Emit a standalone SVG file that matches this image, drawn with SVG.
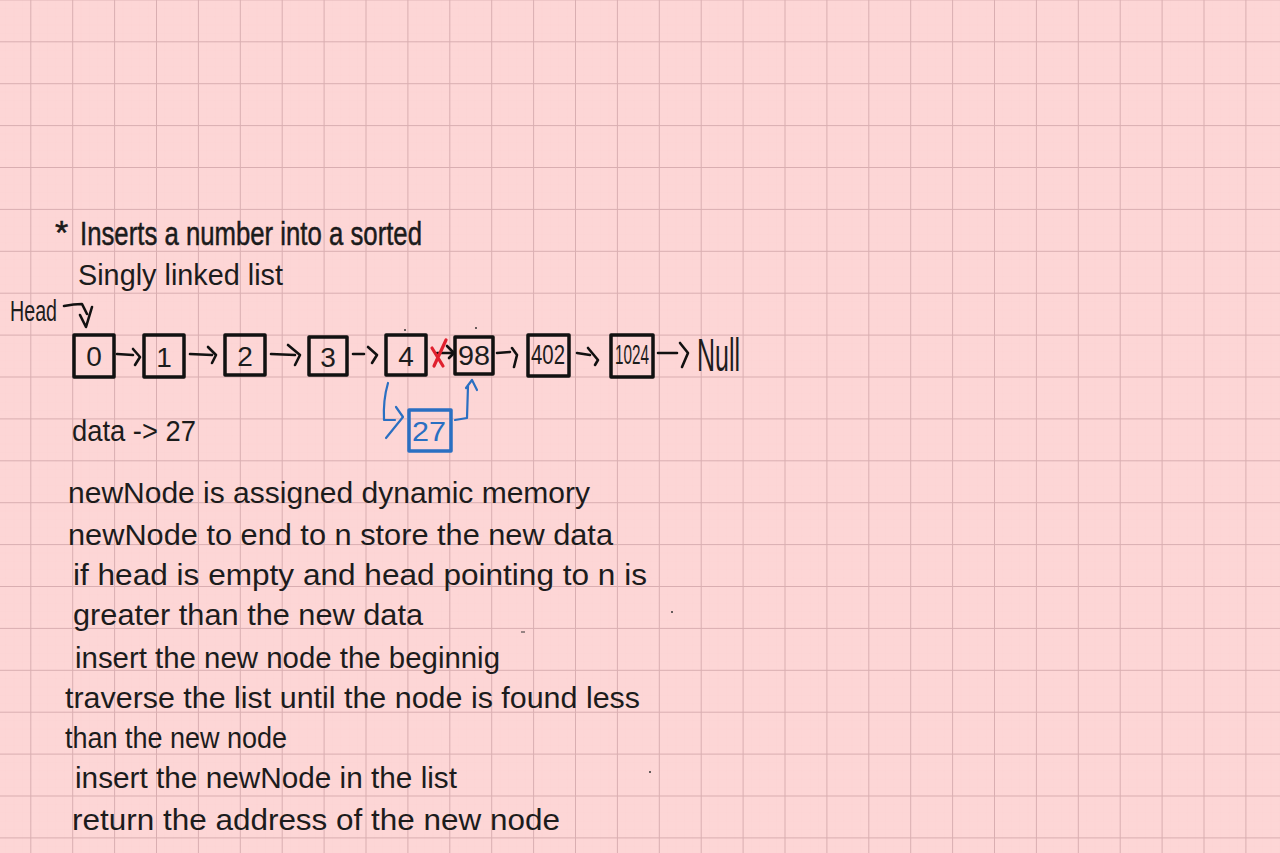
<svg xmlns="http://www.w3.org/2000/svg" width="1280" height="853" viewBox="0 0 1280 853">
  <defs>
    <pattern id="minor" patternUnits="userSpaceOnUse" x="30.3" y="41.3" width="8.38" height="8.38">
      <path d="M0 0H8.38M0 0V8.38" fill="none" stroke="#f8d0d0" stroke-width="0.4"/>
    </pattern>
    <pattern id="major" patternUnits="userSpaceOnUse" x="30.3" y="41.3" width="41.9" height="41.9">
      <path d="M0 0.5H41.9M0.5 0V41.9" fill="none" stroke="#d9aeb1" stroke-width="1"/>
    </pattern>
    <style>
      .hand { font-family: "Liberation Sans Narrow", "Liberation Sans", "DejaVu Sans", sans-serif; fill: #1c1c1c; }
      .title { font-size: 34px; stroke: #161616; stroke-width: 0.5px; }
      .body { font-size: 29px; }
      .box { fill: none; stroke: #111; stroke-width: 3.5; stroke-linejoin: round; }
      .bbox { fill: none; stroke: #2a6fc2; stroke-width: 3.5; stroke-linejoin: round; }
      .num { font-size: 28px; text-anchor: middle; }
      .arr { fill: none; stroke: #111; stroke-width: 2.6; stroke-linecap: round; stroke-linejoin: round; }
      .barr { fill: none; stroke: #2a6fc2; stroke-width: 2.2; stroke-linecap: round; stroke-linejoin: round; }
      .red { fill: none; stroke: #e0202e; stroke-width: 3.2; stroke-linecap: round; }
    </style>
  </defs>

  <rect width="1280" height="853" fill="#fdd6d6"/>
  <rect width="1280" height="853" fill="url(#minor)"/>
  <rect width="1280" height="853" fill="url(#major)"/>

  <g id="title">
    <text class="hand title" x="55" y="244" font-size="26">*</text>
    <text class="hand title" x="80" y="245" textLength="342" lengthAdjust="spacingAndGlyphs">Inserts a number into a sorted</text>
    <text class="hand body" x="78" y="285" textLength="205" lengthAdjust="spacingAndGlyphs">Singly linked list</text>
  </g>

  <g id="head">
    <text class="hand body" x="10" y="321" textLength="47" lengthAdjust="spacingAndGlyphs">Head</text>
  </g>

  <g id="node-0"><rect class="box" x="74" y="335" width="40" height="42"/><text class="hand num" x="94" y="366">0</text></g>
  <g id="node-1"><rect class="box" x="144" y="335" width="40" height="42"/><text class="hand num" x="164" y="367">1</text></g>
  <g id="node-2"><rect class="box" x="225" y="335" width="40" height="40"/><text class="hand num" x="245" y="366">2</text></g>
  <g id="node-3"><rect class="box" x="309" y="337" width="38" height="38"/><text class="hand num" x="328" y="367">3</text></g>
  <g id="node-4"><rect class="box" x="386" y="335" width="40" height="40"/><text class="hand num" x="406" y="366">4</text></g>
  <g id="node-98"><rect class="box" x="455" y="337" width="38" height="37"/><text class="hand num" x="474" y="365" textLength="32" lengthAdjust="spacingAndGlyphs">98</text></g>
  <g id="node-402"><rect class="box" x="528" y="335" width="41" height="41"/><text class="hand num" x="548" y="364" font-size="22" textLength="34" lengthAdjust="spacingAndGlyphs">402</text></g>
  <g id="node-1024"><rect class="box" x="611" y="335" width="42" height="42"/><text class="hand num" x="632" y="364" font-size="20" textLength="34" lengthAdjust="spacingAndGlyphs">1024</text></g>
  <g id="null"><text class="hand" x="697" y="371" font-size="46" textLength="43" lengthAdjust="spacingAndGlyphs">Null</text></g>
  <g id="node-27"><rect class="bbox" x="409" y="410" width="42" height="41"/><text class="hand num" x="429" y="441" style="fill:#2a6fc2" textLength="34" lengthAdjust="spacingAndGlyphs">27</text></g>

  <g id="connectors">
    <path class="arr" d="M64 306 Q74 304 82 304 L87 314 M80 315 L86 327 L92 307"/>
    <path class="arr" d="M117 354 L133 355 M133 349 L140 357 L135 365"/>
    <path class="arr" d="M190 354 L212 355 M208 347 L216 355 L212 363"/>
    <path class="arr" d="M271 354 L295 355 M288 345 L300 355 L295 365"/>
    <path class="arr" d="M353 354 L364 354 M368 347 L377 355 L372 363"/>
    <path class="arr" d="M437 353 L451 353 M447 346 L454 353 L449 358"/>
    <path class="red" d="M446 340 L434 366 M432 348 L443 366"/>
    <path class="arr" d="M497 353 L510 352 M512 348 L517 355 L514 367"/>
    <path class="arr" d="M577 353 L590 355 M588 348 L598 360 L595 365"/>
    <path class="arr" d="M658 353 L677 353 M680 343 L688 353 L682 367"/>
    <path class="barr" d="M388 383 Q383 400 384 420 L395 420 M396 407 L403 417 L386 438"/>
    <path class="barr" d="M455 420 L467 418 L468 386 M466 388 L472 380 L477 390"/>
    <circle cx="405" cy="330" r="1" fill="#333"/>
    <circle cx="476" cy="328" r="1" fill="#333"/>
  </g>

  <g id="notes">
    <text class="hand body" x="72" y="441" textLength="124" lengthAdjust="spacingAndGlyphs">data -&gt; 27</text>
    <text class="hand body" x="68" y="503" textLength="522" lengthAdjust="spacingAndGlyphs">newNode is assigned dynamic memory</text>
    <text class="hand body" x="68" y="545" textLength="545" lengthAdjust="spacingAndGlyphs">newNode to end to n store the new data</text>
    <text class="hand body" x="73" y="585" textLength="574" lengthAdjust="spacingAndGlyphs">if head is empty and head pointing to n is</text>
    <text class="hand body" x="73" y="625" textLength="350" lengthAdjust="spacingAndGlyphs">greater than the new data</text>
    <text class="hand body" x="75" y="668" textLength="425" lengthAdjust="spacingAndGlyphs">insert the new node the beginnig</text>
    <text class="hand body" x="65" y="708" textLength="575" lengthAdjust="spacingAndGlyphs">traverse the list until the node is found less</text>
    <text class="hand body" x="65" y="748" textLength="222" lengthAdjust="spacingAndGlyphs">than the new node</text>
    <text class="hand body" x="75" y="788" textLength="382" lengthAdjust="spacingAndGlyphs">insert the newNode in the list</text>
    <text class="hand body" x="72" y="830" textLength="488" lengthAdjust="spacingAndGlyphs">return the address of the new node</text>
    <circle cx="672" cy="612" r="1" fill="#333"/>
    <path d="M521 632 H525" stroke="#333" stroke-width="1"/>
    <circle cx="650" cy="772" r="1" fill="#333"/>
  </g>
</svg>
